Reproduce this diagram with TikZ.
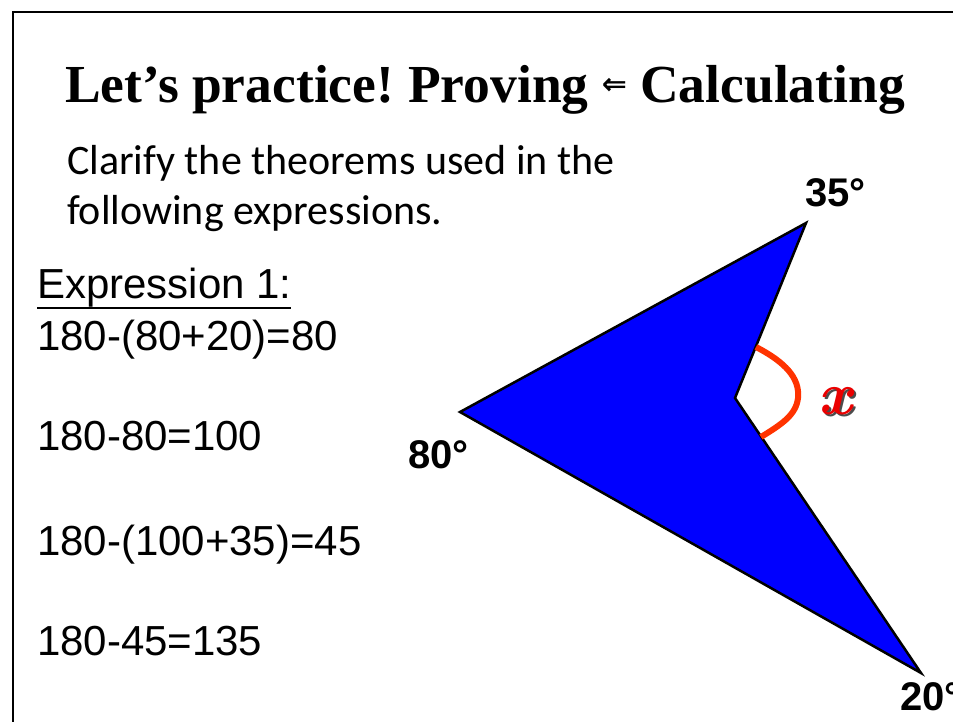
\documentclass[tikz,border=0pt]{standalone}
\usepackage{fontspec}
\setmainfont{Liberation Serif}
\newfontfamily\arialf{Liberation Sans}
\newfontfamily\calibrif{Carlito}
\newfontfamily\dejavuf{DejaVu Sans}
\newfontfamily\lmrf{Latin Modern Roman}
\definecolor{shapeblue}{RGB}{0,0,255}
\definecolor{arcred}{RGB}{255,51,0}
\definecolor{xred}{RGB}{235,0,0}
\tikzset{
  txt/.style={anchor=base west, inner sep=0pt, outer sep=0pt},
  expr/.style={txt, font=\arialf\fontsize{42}{48}\selectfont},
  deg/.style={txt, font=\arialf\bfseries\fontsize{40}{46}\selectfont},
  xlab/.style={txt, font=\lmrf\bfseries\itshape\fontsize{60}{66}\selectfont},
  frameline/.style={draw=black, line width=2pt},
  bluepoly/.style={fill=shapeblue, draw=black, line width=2.5pt, line join=miter},
  anglearc/.style={draw=arcred, line width=6pt},
}
\begin{document}
\begin{tikzpicture}[x=1pt,y=-1pt]
\useasboundingbox (0,0) rectangle (953,722);
\clip (0,0) rectangle (953,722);
\fill[white] (0,0) rectangle (953,722);
\draw[frameline] (13,12) rectangle (990,760);
% title
\node[txt, font=\bfseries\fontsize{53.5}{60}\selectfont] (title) at (65,103)
  {Let’s practice!\hspace{-4pt} Proving {\dejavuf\fontsize{30}{34}\selectfont\raisebox{8pt}{⇐}} Calculating};
% subtitle
\node[txt, font=\calibrif\fontsize{42}{48}\selectfont] (sub1) at (67,175) {Clarify the theorems used in the};
\node[txt, font=\calibrif\fontsize{42}{48}\selectfont] (sub2) at (67,225) {following expressions.};
% expressions
\node[expr] (e0) at (37,298) {Expression 1:};
\draw[line width=2pt] ([yshift=-10pt]e0.base west) -- ([yshift=-10pt]e0.base east);
\node[expr] (e1) at (37,350) {180-(80+20)=80};
\node[expr] (e2) at (37,450) {180-80=100};
\node[expr] (e3) at (37,555) {180-(100+35)=45};
\node[expr] (e4) at (37,655) {180-45=135};
% shape
\coordinate (A) at (806,223);
\coordinate (R) at (735,398);
\coordinate (B) at (921,673);
\coordinate (C) at (460,412);
\draw[bluepoly] (A) -- (R) -- (B) -- (C) -- cycle;
\coordinate (p1) at (756,347);
\coordinate (p2) at (761,437);
\draw[anglearc, line cap=butt] (p1) .. controls (785,362) and (800,378) .. (798,398)
  .. controls (796,415) and (782,424) .. (p2);
\node[xlab, text=black!70] (xs) at (820.5,416.5) {x};
\node[xlab, text=xred] (xl) at (818,414) {x};
% angle labels
\node[deg] (d35) at (805,207) {35°};
\node[deg] (d80) at (408,468) {80°};
\node[deg] (d20) at (900,710) {20°};
\end{tikzpicture}
\end{document}
